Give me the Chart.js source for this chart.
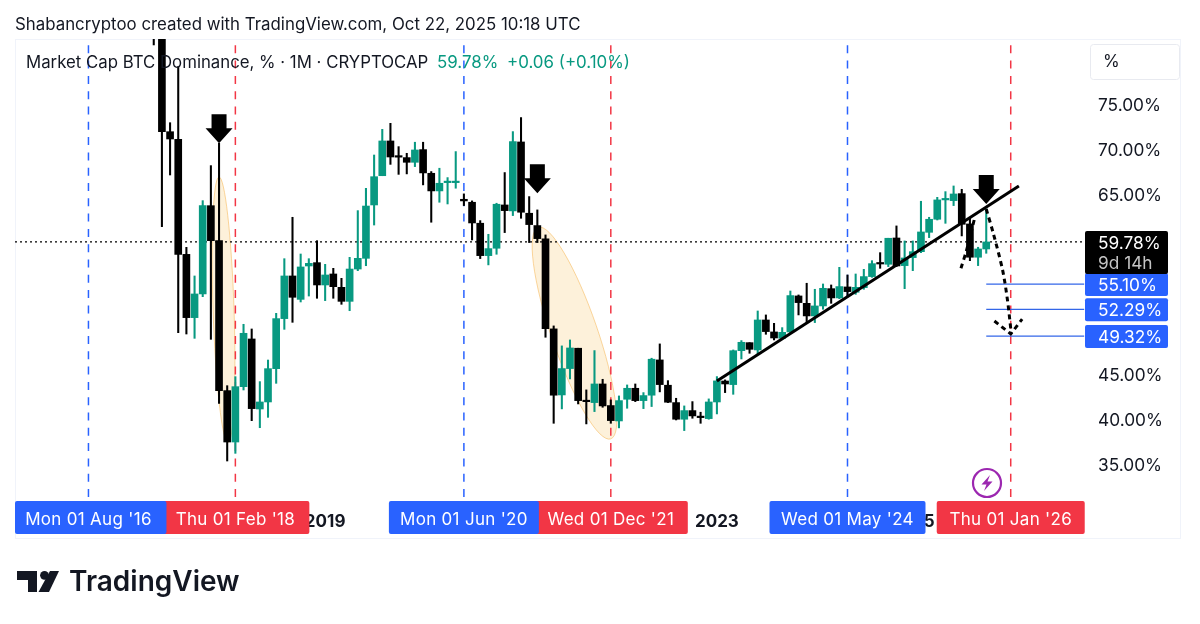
<!DOCTYPE html>
<html><head><meta charset="utf-8">
<style>html,body{margin:0;padding:0;background:#fff}canvas{display:block}</style>
<script src="https://cdn.jsdelivr.net/npm/chart.js@4"></script>
</head><body><canvas id="c" width="1200" height="624"></canvas>
<script>
const months = ['2015-11','2015-12',
'2016-01','2016-02','2016-03','2016-04','2016-05','2016-06','2016-07','2016-08','2016-09','2016-10','2016-11','2016-12',
'2017-01','2017-02','2017-03','2017-04','2017-05','2017-06','2017-07','2017-08','2017-09','2017-10','2017-11','2017-12',
'2018-01','2018-02','2018-03','2018-04','2018-05','2018-06','2018-07','2018-08','2018-09','2018-10','2018-11','2018-12',
'2019-01','2019-02','2019-03','2019-04','2019-05','2019-06','2019-07','2019-08','2019-09','2019-10','2019-11','2019-12',
'2020-01','2020-02','2020-03','2020-04','2020-05','2020-06','2020-07','2020-08','2020-09','2020-10','2020-11','2020-12',
'2021-01','2021-02','2021-03','2021-04','2021-05','2021-06','2021-07','2021-08','2021-09','2021-10','2021-11','2021-12',
'2022-01','2022-02','2022-03','2022-04','2022-05','2022-06','2022-07','2022-08','2022-09','2022-10','2022-11','2022-12',
'2023-01','2023-02','2023-03','2023-04','2023-05','2023-06','2023-07','2023-08','2023-09','2023-10','2023-11','2023-12',
'2024-01','2024-02','2024-03','2024-04','2024-05','2024-06','2024-07','2024-08','2024-09','2024-10','2024-11','2024-12',
'2025-01','2025-02','2025-03','2025-04','2025-05','2025-06','2025-07','2025-08','2025-09','2025-10','2025-11','2025-12',
'2026-01','2026-02','2026-03','2026-04','2026-05','2026-06','2026-07','2026-08','2026-09','2026-10'];
const firstCandle = '2017-04';
const opens = [87,85,72.03,71.18,58.4,51.37,54,63.81,59.92,43.26,37.55,43.7,49,41.22,42,45.7,51.26,56,53.4,57.11,57.48,55,56.22,54.74,53.18,56.77,57.96,63.89,67.14,71,69.3,
69.15,68.63,70.04,67.41,65.45,66.37,66.37,64.52,64.19,61.86,58.26,59.08,63.89,63.23,70.89,62.97,61.6,60.12,50.12,42.78,45.71,47.97,42.1,41.93,44,41.6,39.89,42.3,43.52,42.15,42.75,46.67,43.86,41.93,40.08,41.04,40.37,40.15,42,
44.33,43.93,47.7,48.59,47.78,51.11,49.78,49.08,49.78,53.78,52.96,51.56,52.67,54.59,53.56,54.78,54.19,54.7,55.93,57.41,57.3,60.22,57.15,58.04,58.7,60.85,62.3,64.45,64.37,65.15,61.78,58.08,59];
const highs = [88,86,73.03,79.26,59.18,56,64.37,68.26,70.74,43.81,44.81,50.63,50.11,44.26,46.66,51.85,57.92,62.52,58.44,57.92,59.92,57.29,56.85,55.74,58.07,63.26,65.74,69.44,72.29,72.96,70.37,
69.63,70.86,70.86,67.6,67.97,66.93,69.82,65.12,64.34,62.15,60.63,64.08,67.49,72.04,73.6,64.82,63.34,60.56,50.45,48.23,48.89,47.97,43.34,47.71,44.52,42.23,42.67,43.89,44,43.04,46.86,48.45,44.37,42.41,41.56,42.04,40.86,42.34,44.82,
44.45,47.78,48.82,48.59,52.11,51.67,50.74,50.26,54.33,53.89,55.19,54.52,55.11,55,56.96,56.11,56.22,56.74,57.7,58.59,60.19,61.56,59.89,59.89,64.3,62.52,64.74,65.37,66,65.63,62.52,59.19,63.45];
const lows = [81.67,61.48,67.22,49.7,49.55,49.07,53.7,48.96,41.85,35.44,36.29,43.33,39.92,39.14,40.29,44.07,50.07,50.85,53.11,53.77,53.52,53.26,53.52,52.85,52.14,56.59,57.14,61.66,67.14,68.4,67.29,
67.34,68.15,66.12,61.97,64.19,64,65.75,63.82,60,57.93,57.23,58.41,60.82,62.71,62.41,59.71,59.71,49.19,39.63,41.23,44.56,41.78,39.56,40.93,41.41,39.63,39.12,41.3,42.04,41.26,41.49,43.12,41.93,40,38.82,40.19,39.63,40.08,40.67,
43.04,42.85,46.78,47.41,47.3,49.52,48.89,48.96,49.63,51.67,50.93,50.82,52.3,52.96,53.48,53.7,53.96,54.52,55.85,56.85,57.04,57.04,54.59,56.59,58.59,60.26,62.22,61.85,63.82,60.45,57.7,57.15,58.52];
const closes = [85,72.03,71.22,58.4,51.37,54,63.81,59.92,43.26,37.55,43.7,49.63,41.26,42,45.7,51.26,56,53.63,57,57.4,55,56.11,54.81,53.18,56.77,57.96,63.77,67.03,71,69.22,69.2,
68.63,70,67.45,65.45,66.3,66.45,66.45,64.34,61.89,58.26,59.04,63.97,63.26,70.93,63.08,61.71,60.15,50.15,42.75,45.71,48,42.15,42.03,44,41.56,39.93,42.15,43.52,42.15,42.71,46.75,43.93,41.97,40.08,41.04,40.45,40.26,42,44.34,
44,47.7,48.63,47.85,51.11,49.82,49.11,49.74,53.82,53.04,51.56,52.67,54.63,53.56,54.82,54.26,54.74,55.93,57.37,57.33,60.19,57.11,58,58.7,60.89,62.3,64.45,64.52,65.11,61.74,58.08,59,59.78];

const yTicks = [35,40,45,65,70,75];
const xTickMonths = ['2019-01','2023-01','2025-01'];
const yMin = 31.44, yMax = 82.33;
const lastPrice = 59.78;

const blueMonths = ['2016-08','2020-06','2024-05'];
const redMonths = ['2018-02','2021-12','2026-01'];
const blueTagLabels = ["Mon 01 Aug '16","Mon 01 Jun '20","Wed 01 May '24"];
const redTagLabels = ["Thu 01 Feb '18","Wed 01 Dec '21","Thu 01 Jan '26"];
const targetLevels = [55.10,52.29,49.32];
const targetStart = '2025-10';
const arrowMonths = ['2017-12','2021-03','2025-10'];
const arrowValues = [70.74,65.2,64.0];
const trendX = ['2023-01','2026-02'];
const trendY = [44.33,66.0];
const dropCurveX = [119.0,119.85,121.0,121.6,122.06];
const dropCurveY = [63.44,60.78,56.67,53.33,49.67];
const headX = [120.0,122.0,123.4];
const headY = [51.0,49.56,51.2];
const riseCurveX = [115.9,116.6,117.6];
const riseCurveY = [56.85,58.9,62.5];
const ellipseEnds = [
  {x1:25.0,y1:67.0,x2:26.1,y2:37.5},
  {x1:64.1,y1:61.4,x2:73.0,y2:37.9}
];

const GREEN = '#089981', BLACK = '#000000', BLUE = '#2962ff', RED = '#f23645', INK = '#131722';
const FONT = 'Inter, "Liberation Sans", sans-serif';
const idx = m => months.indexOf(m);
const start = idx(firstCandle);
const colors = closes.map((c,i) => c >= opens[i] ? GREEN : BLACK);
const bodies = opens.map((o,i) => ({x:start+i, y:[o,closes[i]]}));
const wicks = lows.map((l,i) => ({x:start+i, y:[l,highs[i]]}));
const xy = (xs,ys) => xs.map((x,i)=>({x, y:ys[i]}));
const vline = (m,color) => ({type:'line', data:[{x:idx(m),y:yMin},{x:idx(m),y:yMax}], borderColor:color, borderWidth:1.5, borderDash:[8,7.3], pointRadius:0, order:6});

const overlay = {
  id:'overlay',
  beforeDatasetsDraw(ch){
    const {ctx, scales:{x,y}, chartArea:a} = ch;
    ctx.save();
    ctx.strokeStyle='#f0f3fa'; ctx.lineWidth=1;
    ctx.strokeRect(15.5,39.5,1165,499);
    ctx.beginPath(); ctx.rect(a.left,a.top,a.width,a.height); ctx.clip();
    const minor=[10.5,23];
    ellipseEnds.forEach((e,i)=>{
      const px1=x.getPixelForValue(e.x1),py1=y.getPixelForValue(e.y1),px2=x.getPixelForValue(e.x2),py2=y.getPixelForValue(e.y2);
      ctx.beginPath();
      ctx.ellipse((px1+px2)/2,(py1+py2)/2,Math.hypot(px2-px1,py2-py1)/2,minor[i],Math.atan2(py2-py1,px2-px1),0,Math.PI*2);
      ctx.fillStyle='rgba(245,175,50,0.18)'; ctx.fill();
      ctx.strokeStyle='rgba(245,175,70,0.5)'; ctx.lineWidth=1; ctx.stroke();
    });
    ctx.restore();
  },
  afterDatasetsDraw(ch){
    const {ctx, scales:{x,y}} = ch;
    ctx.save(); ctx.fillStyle='#000';
    arrowMonths.forEach((m,i)=>{
      const tx=x.getPixelForValue(idx(m)), ty=y.getPixelForValue(arrowValues[i]);
      ctx.beginPath();
      ctx.moveTo(tx,ty); ctx.lineTo(tx-13.5,ty-15); ctx.lineTo(tx-7.5,ty-15); ctx.lineTo(tx-7.5,ty-29);
      ctx.lineTo(tx+7.5,ty-29); ctx.lineTo(tx+7.5,ty-15); ctx.lineTo(tx+13.5,ty-15); ctx.closePath(); ctx.fill();
    });
    ctx.restore();
  },
  afterDraw(ch){
    const {ctx, scales:{x,y}, chartArea:a} = ch;
    ctx.save();
    ctx.textBaseline='middle';
    // header & legend
    ctx.textAlign='left';
    ctx.fillStyle=INK; ctx.font='400 16.85px '+FONT;
    ctx.fillText('Shabancryptoo created with TradingView.com, Oct 22, 2025 10:18 UTC',15,25);
    ctx.font='400 16.8px '+FONT;
    ctx.fillText('Market Cap BTC Dominance, % \u00b7 1M \u00b7 CRYPTOCAP',26,63);
    ctx.fillStyle=GREEN; ctx.font='400 16.9px '+FONT;
    ctx.fillText('59.78%',437,63);
    ctx.fillText('+0.06 (+0.10%)',507,63);
    // % box
    ctx.strokeStyle='#e8eaf0'; ctx.lineWidth=1;
    ctx.beginPath(); ctx.roundRect(1090.5,44.5,89,35,3); ctx.stroke();
    ctx.fillStyle=INK; ctx.font='400 17px '+FONT; ctx.fillText('%',1103,62);
    // bottom date tags: red first, blue on top
    const tag=(m,label,color,half)=>{
      const cx=x.getPixelForValue(idx(m));
      ctx.font='400 17px '+FONT; ctx.letterSpacing='0.3px';
      const l=Math.max(a.left,cx-half), r=Math.min(a.right,cx+half);
      ctx.fillStyle=color;
      ctx.beginPath(); ctx.roundRect(l,501,r-l,33,2); ctx.fill();
      ctx.fillStyle='#fff'; ctx.textAlign='center';
      ctx.fillText(label,cx,520);
      ctx.letterSpacing='0px';
    };
    const redHalf=[74,77,74], blueHalf=[78,75,78];
    redMonths.forEach((m,i)=>tag(m,redTagLabels[i],RED,redHalf[i]));
    blueMonths.forEach((m,i)=>tag(m,blueTagLabels[i],BLUE,blueHalf[i]));
    // price tags
    ctx.textAlign='left';
    const axisFont='400 17.3px '+FONT;
    targetLevels.forEach(v=>{
      const py=y.getPixelForValue(v);
      ctx.fillStyle=BLUE;
      ctx.beginPath(); ctx.roundRect(1085,py-11,83,23,2); ctx.fill();
      ctx.fillStyle='#fff'; ctx.font=axisFont;
      ctx.fillText(v.toFixed(2)+'%',1098,py+1.5);
    });
    const lp=y.getPixelForValue(lastPrice);
    ctx.fillStyle='#000';
    ctx.beginPath(); ctx.roundRect(1085,lp-11,83,43,2); ctx.fill();
    ctx.fillStyle='#fff'; ctx.font=axisFont; ctx.fillText(lastPrice.toFixed(2)+'%',1098,lp+2);
    ctx.fillStyle='#c4c4c4'; ctx.fillText('9d 14h',1098,lp+22);
    // purple marker
    const px=987,py=483;
    ctx.strokeStyle='#9c27b0'; ctx.lineWidth=2.2;
    ctx.beginPath(); ctx.arc(px,py,14,0,Math.PI*2); ctx.stroke();
    ctx.fillStyle='#9c27b0';
    ctx.beginPath(); ctx.moveTo(px+3,py-8); ctx.lineTo(px-5.5,py+1.5); ctx.lineTo(px-0.5,py+1.5); ctx.lineTo(px-3,py+8);
    ctx.lineTo(px+5.5,py-1.5); ctx.lineTo(px+0.5,py-1.5); ctx.closePath(); ctx.fill();
    // logo
    ctx.fillStyle='#131722';
    ctx.beginPath(); ctx.moveTo(17,571); ctx.lineTo(37,571); ctx.lineTo(37,592); ctx.lineTo(28,592); ctx.lineTo(28,580); ctx.lineTo(17,580); ctx.closePath(); ctx.fill();
    ctx.beginPath(); ctx.arc(44.5,575.3,4.4,0,Math.PI*2); ctx.fill();
    ctx.beginPath(); ctx.moveTo(50,571); ctx.lineTo(59,571); ctx.lineTo(49,592); ctx.lineTo(38.5,592); ctx.closePath(); ctx.fill();
    ctx.font='600 28px '+FONT; ctx.textAlign='left';
    ctx.fillText('TradingView',69,583);
    ctx.restore();
  }
};

new Chart(document.getElementById('c'),{
  type:'bar',
  plugins:[overlay],
  data:{datasets:[
    {data:bodies, backgroundColor:colors, barThickness:7, minBarLength:1.5, grouped:false, order:3},
    {data:wicks, backgroundColor:colors, barThickness:1.4, grouped:false, order:4},
    ...blueMonths.map(m=>vline(m,BLUE)),
    ...redMonths.map(m=>vline(m,RED)),
    {type:'line', data:[{x:0,y:lastPrice},{x:idx('2026-10'),y:lastPrice}], borderColor:'#000', borderWidth:1.3, borderDash:[2,3], pointRadius:0, order:5},
    ...targetLevels.map(v=>({type:'line', data:[{x:idx(targetStart),y:v},{x:idx('2026-10'),y:v}], borderColor:'#3366e8', borderWidth:1.3, pointRadius:0, order:2})),
    {type:'line', data:xy(trendX.map(idx),trendY), borderColor:'#000', borderWidth:3, pointRadius:0, order:1},
    {type:'line', data:xy(dropCurveX,dropCurveY), borderColor:'#000', borderWidth:3, borderDash:[5,4], tension:0.3, pointRadius:0, order:1},
    {type:'line', data:xy(headX,headY), borderColor:'#000', borderWidth:3, borderDash:[5,4], pointRadius:0, order:1},
    {type:'line', data:xy(riseCurveX,riseCurveY), borderColor:'#000', borderWidth:3, borderDash:[5,4], tension:0.3, pointRadius:0, order:1}
  ]},
  options:{
    responsive:false, animation:false, events:[],
    layout:{padding:{left:15,top:39,right:20,bottom:86}},
    plugins:{legend:{display:false},tooltip:{enabled:false},title:{display:false}},
    scales:{
      x:{type:'linear',min:0,max:131.1,offset:false,position:'bottom',
        grid:{display:false},border:{display:false},
        afterBuildTicks(s){s.ticks=xTickMonths.map(m=>({value:idx(m)}));},
        afterFit(s){s.height=41;s.paddingLeft=0;s.paddingRight=0;},
        ticks:{autoSkip:false,maxRotation:0,minRotation:0,padding:7,color:INK,font:{family:FONT,size:17,weight:'700'},
          callback:v=>months[v]?months[v].slice(0,4):''}},
      y:{type:'linear',position:'right',min:yMin,max:yMax,
        grid:{display:false,drawTicks:false},border:{display:false},
        afterBuildTicks(s){s.ticks=yTicks.map(v=>({value:v}));},
        afterFit(s){s.width=95;s.paddingTop=0;s.paddingBottom=0;},
        ticks:{padding:13,labelOffset:1,color:INK,font:{family:FONT,size:17.3},callback:v=>v.toFixed(2)+'%'}}
    }
  }
});
</script></body></html>
